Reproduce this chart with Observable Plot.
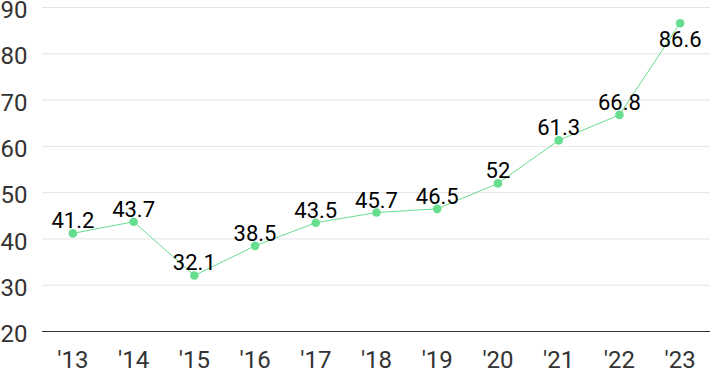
<!DOCTYPE html>
<html>
<head>
<meta charset="utf-8">
<script src="https://cdn.jsdelivr.net/npm/d3@7"></script>
<script src="https://cdn.jsdelivr.net/npm/@observablehq/plot@0.6"></script>
<style>
  html, body { margin: 0; padding: 0; background: #fff; }
  #chart svg { display: block; overflow: visible; }
</style>
</head>
<body>
<div id="chart"></div>
<script>
const years = ["'13", "'14", "'15", "'16", "'17", "'18", "'19", "'20", "'21", "'22", "'23"];
const values = [41.2, 43.7, 32.1, 38.5, 43.5, 45.7, 46.5, 52, 61.3, 66.8, 86.6];
const labels = ["41.2", "43.7", "32.1", "38.5", "43.5", "45.7", "46.5", "52", "61.3", "66.8", "86.6"];
const yTicks = [20, 30, 40, 50, 60, 70, 80, 90];

const data = years.map((y, i) => ({year: y, value: values[i], label: labels[i]}));
const yMax = 90;
const fitsAbove = d => d.value + 4 <= yMax;

const green = "#66dd8f";

const plot = Plot.plot({
  width: 710,
  height: 371,
  marginLeft: 42,
  marginRight: 0,
  marginTop: 7,
  marginBottom: 40,
  style: {fontFamily: "Roboto, sans-serif", background: "#fff", overflow: "visible"},
  x: {type: "point", domain: years, padding: 0.5, round: false},
  y: {domain: [20, 90]},
  marks: [
    Plot.gridY(yTicks.filter(t => t > 20), {stroke: "#e3e3e3", strokeOpacity: 1, strokeWidth: 1}),
    Plot.ruleY([20], {stroke: "#333", strokeWidth: 1}),
    Plot.axisY(yTicks, {tickSize: 0, tickPadding: 42, textAnchor: "start", fontSize: 24, fill: "#333", dy: 3, label: null}),
    Plot.axisX({tickSize: 0, tickPadding: 19, fontSize: 24, fill: "#333", label: null}),
    Plot.line(data, {x: "year", y: "value", stroke: green, strokeWidth: 1}),
    Plot.dot(data, {x: "year", y: "value", r: 4.3, fill: green, stroke: "none"}),
    Plot.text(data.filter(fitsAbove), {x: "year", y: "value", text: "label", fontSize: 22, fill: "#000", lineAnchor: "bottom", dy: -5}),
    Plot.text(data.filter(d => !fitsAbove(d)), {x: "year", y: "value", text: "label", fontSize: 22, fill: "#000", lineAnchor: "top", dy: 8})
  ]
});
document.getElementById("chart").append(plot);
</script>
</body>
</html>
